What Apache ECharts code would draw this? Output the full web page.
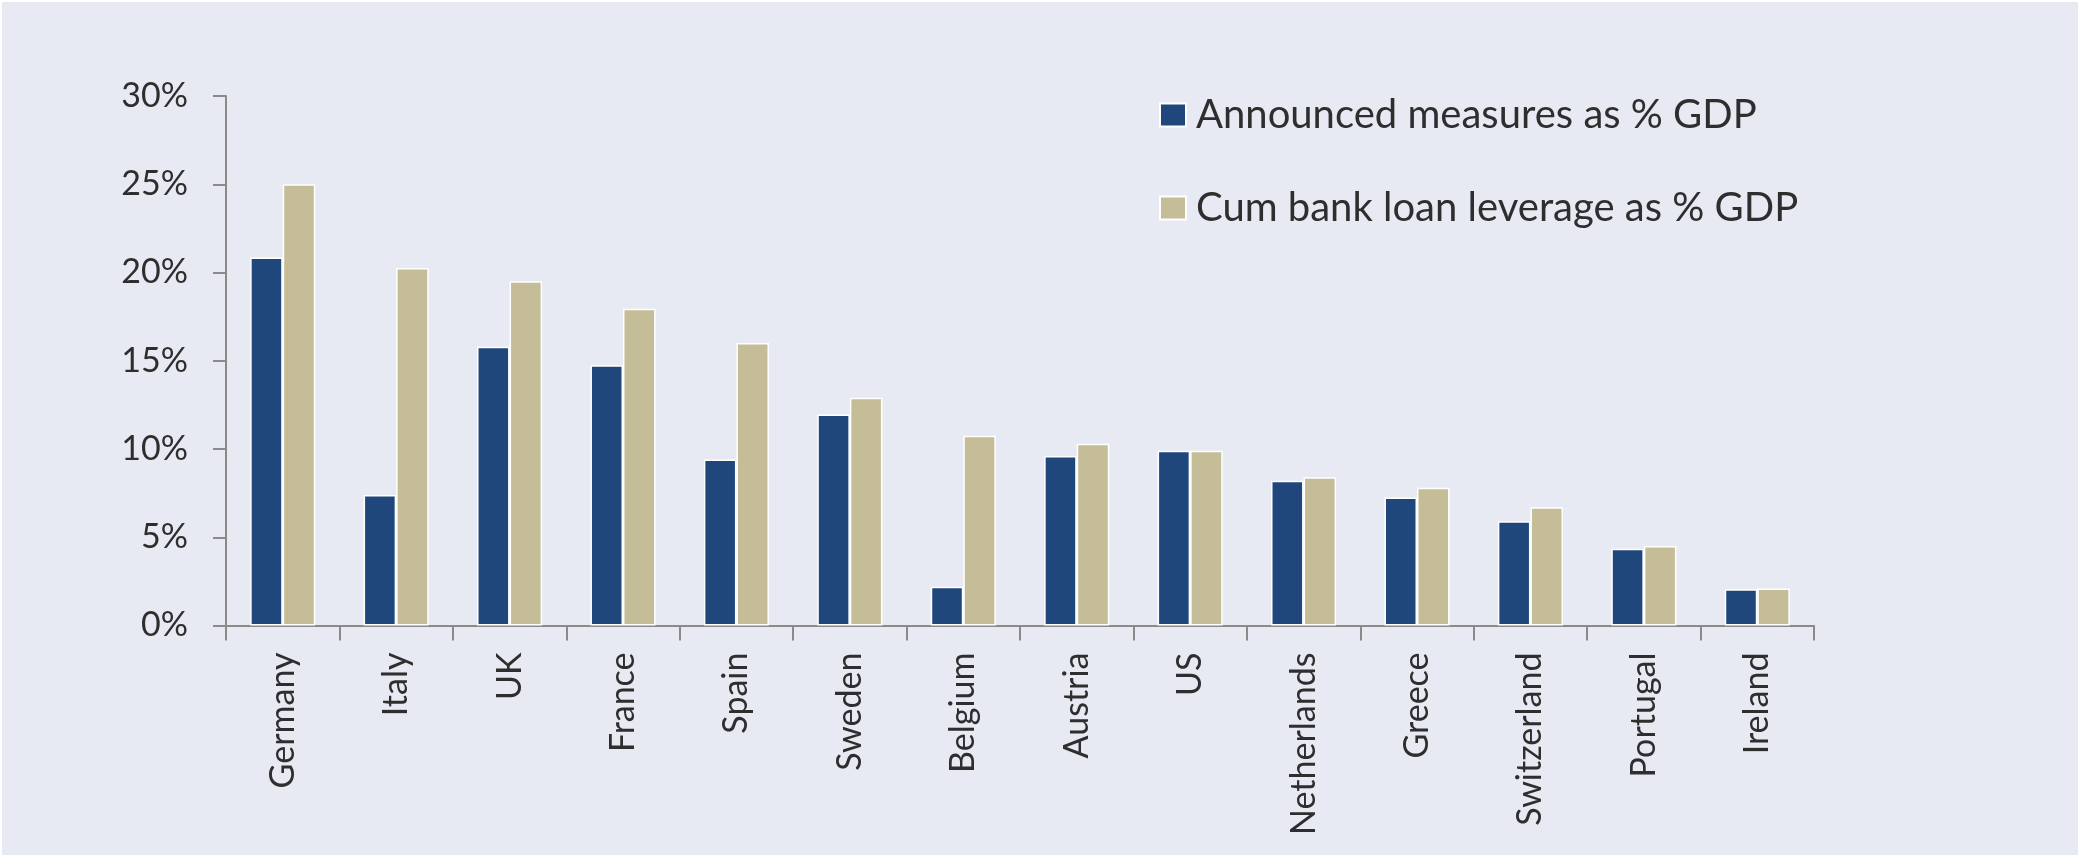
<!DOCTYPE html>
<html>
<head>
<meta charset="utf-8">
<script src="https://cdn.jsdelivr.net/npm/echarts@6/dist/echarts.min.js"></script>
<style>
  html, body { margin: 0; padding: 0; background: #ffffff; }
  #frame { position: absolute; left: 2px; top: 2px; width: 2076px; height: 853px; background: #E7EAF2; }
  #chart { position: absolute; left: -2px; top: -2px; width: 2082px; height: 858px; }
</style>
</head>
<body>
<div id="frame"><div id="chart"></div></div>
<script>
const categories = ["Germany", "Italy", "UK", "France", "Spain", "Sweden", "Belgium", "Austria", "US", "Netherlands", "Greece", "Switzerland", "Portugal", "Ireland"];
const announcedMeasures = [20.85, 7.4, 15.8, 14.75, 9.4, 11.95, 2.2, 9.6, 9.9, 8.2, 7.25, 5.9, 4.35, 2.05];
const bankLoanLeverage = [25.0, 20.25, 19.5, 17.95, 16.0, 12.9, 10.75, 10.3, 9.9, 8.4, 7.8, 6.7, 4.5, 2.1];
const seriesNames = ["Announced measures as % GDP", "Cum bank loan leverage as % GDP"];
const yTicks = { min: 0, max: 30, interval: 5 };

const FONT = 'Lato';
const TXT = '#2e2e2e';
const AXIS = '#8a8a8a';

const chart = echarts.init(document.getElementById('chart'), null, { renderer: 'canvas' });
chart.setOption({
  backgroundColor: 'transparent',
  animation: false,
  grid: { left: 226, right: 268, top: 96, bottom: 232.5, containLabel: false },
  legend: {
    orient: 'vertical',
    left: 1154,
    top: 90,
    itemWidth: 26,
    itemHeight: 23,
    itemGap: 53,
    icon: 'rect',
    textStyle: { fontFamily: FONT, fontSize: 40, color: TXT, padding: [0, 0, 0, 5] },
    data: seriesNames
  },
  xAxis: {
    type: 'category',
    data: categories,
    axisLine: { lineStyle: { color: AXIS, width: 2 } },
    axisTick: { show: true, length: 15, lineStyle: { color: AXIS, width: 2 } },
    axisLabel: { rotate: 90, margin: 27, fontFamily: FONT, fontSize: 34, color: TXT, interval: 0 },
    splitLine: { show: false }
  },
  yAxis: {
    type: 'value',
    min: yTicks.min, max: yTicks.max, interval: yTicks.interval,
    axisLine: { show: true, lineStyle: { color: AXIS, width: 2 } },
    axisTick: { show: true, length: 13, lineStyle: { color: AXIS, width: 2 } },
    axisLabel: { margin: 38, fontFamily: FONT, fontSize: 34, color: TXT, formatter: '{value}%' },
    splitLine: { show: false }
  },
  series: [
    {
      name: seriesNames[0], type: 'bar', data: announcedMeasures,
      barWidth: '28.7%', barGap: '0%',
      itemStyle: { color: '#1F477B', borderColor: '#ffffff', borderWidth: 1.5 }
    },
    {
      name: seriesNames[1], type: 'bar', data: bankLoanLeverage,
      barWidth: '28.7%', barGap: '0%',
      itemStyle: { color: '#C5BD97', borderColor: '#ffffff', borderWidth: 1.5 }
    }
  ]
});
</script>
</body>
</html>
